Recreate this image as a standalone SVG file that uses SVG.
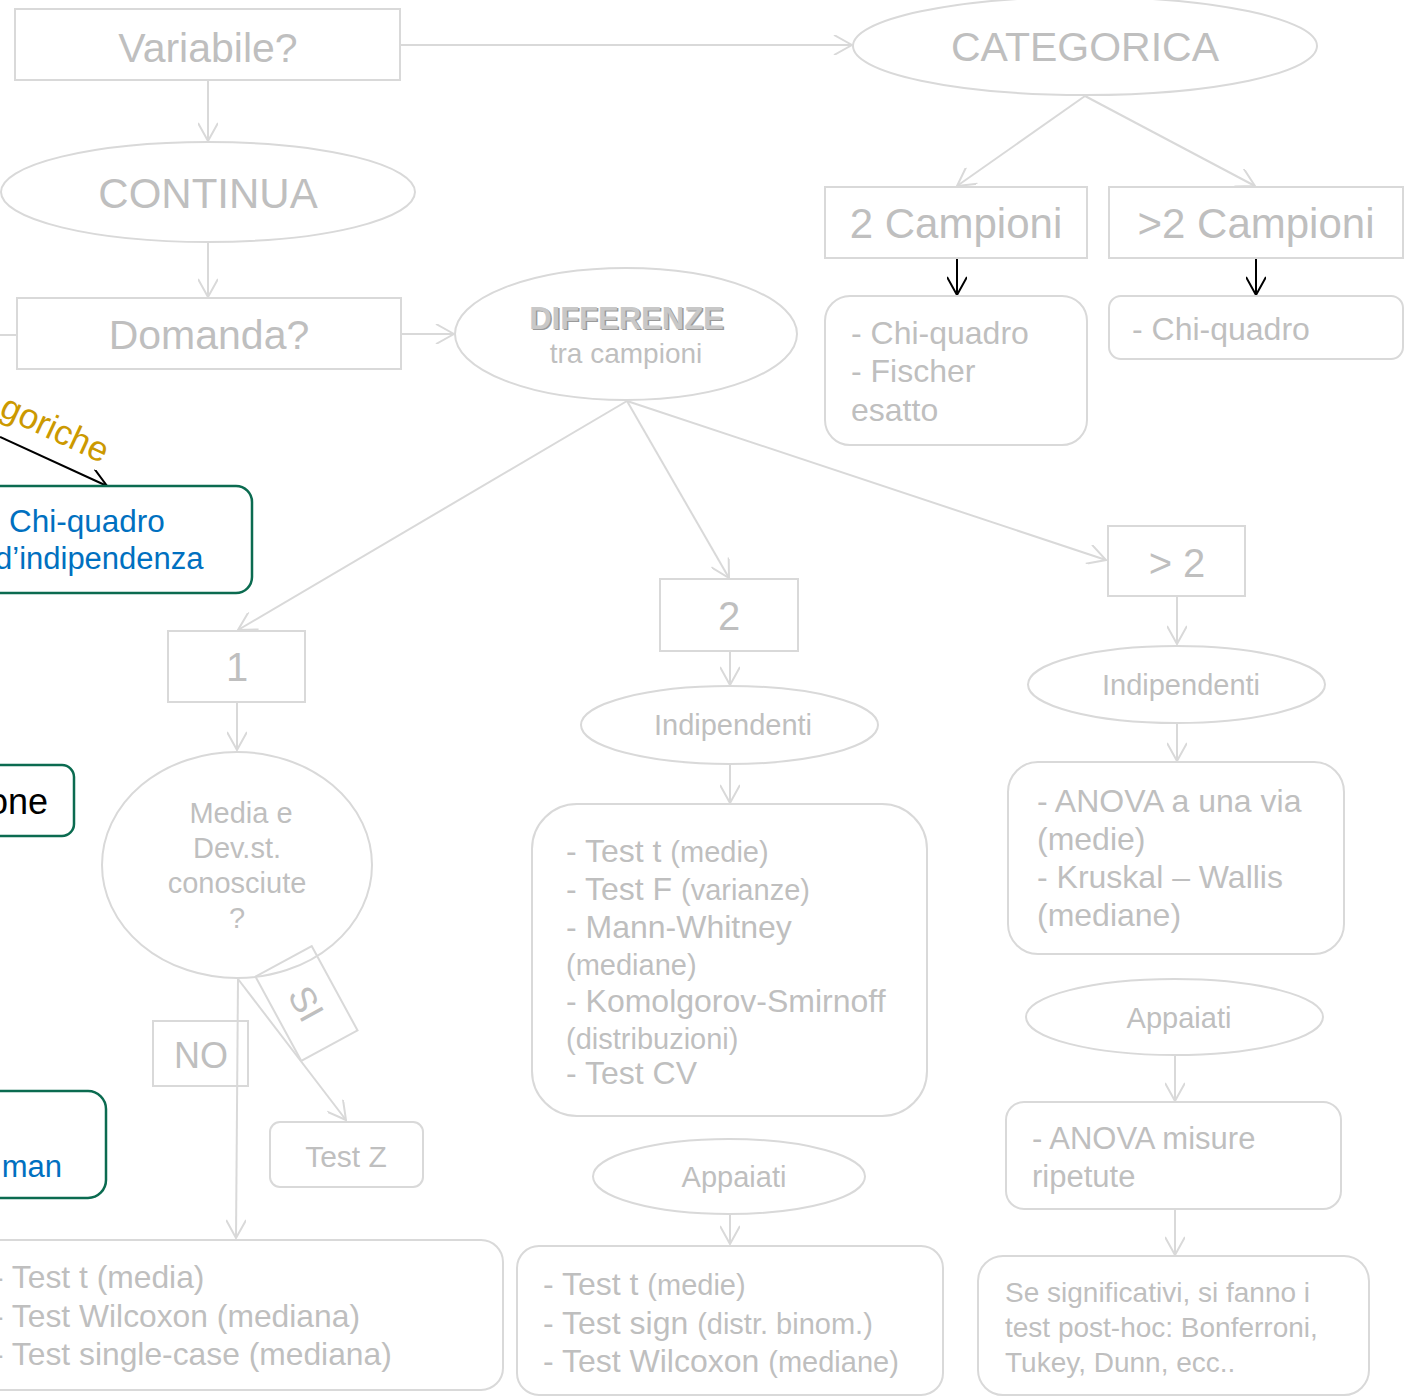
<svg xmlns="http://www.w3.org/2000/svg" width="1404" height="1397" viewBox="0 0 1404 1397">
<style>
text{font-family:"Liberation Sans",Arial,sans-serif;fill:#bfbfbf}
.shape{fill:#fff;stroke:#d9d9d9;stroke-width:2}
.lbl{fill:none;stroke:#d9d9d9;stroke-width:2}
.green{fill:#fff;stroke:#0b6b50;stroke-width:2.5}
.conn{stroke:#d9d9d9;stroke-width:2;fill:none;marker-end:url(#ag)}
.plain{stroke:#d9d9d9;stroke-width:2;fill:none}
.bconn{stroke:#000;stroke-width:2;fill:none;marker-end:url(#ab)}
.c{text-anchor:middle}
.blue{fill:#0070c0}
</style>
<defs>
<marker id="ag" viewBox="0 0 20 20" markerWidth="20" markerHeight="20" refX="19" refY="10" orient="auto" markerUnits="userSpaceOnUse"><path d="M1,0 L19,10 L1,20" fill="none" stroke="#d9d9d9" stroke-width="2"/></marker>
<marker id="ab" viewBox="0 0 20 20" markerWidth="20" markerHeight="20" refX="19" refY="10" orient="auto" markerUnits="userSpaceOnUse"><path d="M1,0 L19,10 L1,20" fill="none" stroke="#000" stroke-width="2"/></marker>
</defs>
<rect width="1404" height="1397" fill="#fff"/>

<g id="connectors">
<line class="conn" x1="400" y1="45" x2="852" y2="45"/>
<line class="conn" x1="208" y1="80" x2="208" y2="141"/>
<line class="conn" x1="208" y1="242" x2="208" y2="297"/>
<line class="plain" x1="0" y1="335" x2="17" y2="335"/>
<line class="conn" x1="401" y1="334" x2="454" y2="334"/>
<line class="conn" x1="1085" y1="96" x2="957" y2="186"/>
<line class="conn" x1="1085" y1="96" x2="1255" y2="186"/>
<line class="bconn" x1="957" y1="258" x2="957" y2="295"/>
<line class="bconn" x1="1256" y1="258" x2="1256" y2="295"/>
<line class="conn" x1="627" y1="401" x2="238" y2="630"/>
<line class="conn" x1="627" y1="401" x2="729" y2="578"/>
<line class="conn" x1="627" y1="401" x2="1106" y2="560"/>
<line class="conn" x1="237" y1="702" x2="237" y2="750"/>
<line class="conn" x1="238" y1="979" x2="236" y2="1238"/>
<line class="conn" x1="238" y1="979" x2="346" y2="1120"/>
<line class="conn" x1="730" y1="651" x2="730" y2="685"/>
<line class="conn" x1="730" y1="764" x2="730" y2="803"/>
<line class="conn" x1="730" y1="1214" x2="730" y2="1244"/>
<line class="conn" x1="1177" y1="596" x2="1177" y2="644"/>
<line class="conn" x1="1177" y1="723" x2="1177" y2="761"/>
<line class="conn" x1="1175" y1="1055" x2="1175" y2="1101"/>
<line class="conn" x1="1175" y1="1209" x2="1175" y2="1255"/>
<line class="bconn" x1="0" y1="437" x2="107" y2="486"/>
</g>

<g id="variabile"><rect class="shape" x="15" y="9" width="385" height="71"/><text class="c" x="208" y="62" font-size="41">Variabile?</text></g>
<g id="categorica"><ellipse class="shape" cx="1085" cy="46" rx="232" ry="49"/><text class="c" x="1085" y="61" font-size="41">CATEGORICA</text></g>
<g id="continua"><ellipse class="shape" cx="208" cy="192" rx="207" ry="50"/><text class="c" x="208" y="208" font-size="42">CONTINUA</text></g>
<g id="domanda"><rect class="shape" x="17" y="298" width="384" height="71"/><text class="c" x="209" y="349" font-size="41">Domanda?</text></g>
<g id="differenze"><ellipse class="shape" cx="626" cy="334" rx="171" ry="66"/>
<text class="c" x="628" y="330" font-size="31" font-weight="bold" style="fill:#9a9a9a">DIFFERENZE</text>
<text class="c" x="626.5" y="328.5" font-size="31" font-weight="bold" style="fill:#c8c8c8">DIFFERENZE</text>
<text class="c" x="626" y="363" font-size="28">tra campioni</text></g>

<g id="due-campioni"><rect class="shape" x="825" y="187" width="262" height="71"/><text class="c" x="956" y="238" font-size="42">2 Campioni</text></g>
<g id="piu-campioni"><rect class="shape" x="1109" y="187" width="294" height="71"/><text class="c" x="1256" y="238" font-size="42">&gt;2 Campioni</text></g>
<g id="chi-fischer"><rect class="shape" x="825" y="296" width="262" height="149" rx="25"/>
<text x="851" font-size="32"><tspan x="851" y="344">- Chi-quadro</tspan><tspan x="851" y="382">- Fischer</tspan><tspan x="851" y="421">esatto</tspan></text></g>
<g id="chi-solo"><rect class="shape" x="1109" y="296" width="294" height="63" rx="12"/><text x="1132" y="340" font-size="32">- Chi-quadro</text></g>

<g id="chi-indip"><rect class="green" x="-20" y="486" width="272" height="107" rx="16"/>
<text class="blue" x="9" y="532" font-size="31.5">Chi-quadro</text>
<text class="blue" x="-5" y="569" font-size="31">d’indipendenza</text></g>
<g id="categoriche-label"><text x="-2" y="415" font-size="35" transform="rotate(25 -2 415)" style="fill:#cc9900">goriche</text></g>
<g id="one-box"><rect class="green" x="-20" y="765" width="94" height="71" rx="12"/><text x="48" y="814" font-size="36" text-anchor="end" style="fill:#000">one</text></g>
<g id="man-box"><rect class="green" x="-20" y="1091" width="126" height="107" rx="18"/><text class="blue" x="62" y="1177" font-size="31" text-anchor="end">man</text></g>

<g id="uno"><rect class="shape" x="168" y="631" width="137" height="71"/><text class="c" x="237" y="681" font-size="40">1</text></g>
<g id="media-dev"><ellipse class="shape" cx="237" cy="865" rx="135" ry="113"/>
<text class="c" font-size="29"><tspan x="241" y="823">Media e</tspan><tspan x="237" y="858">Dev.st.</tspan><tspan x="237" y="893">conosciute</tspan><tspan x="237" y="928">?</tspan></text></g>
<g id="no-label"><rect class="lbl" x="153" y="1021" width="95" height="65"/><text class="c" x="201" y="1068" font-size="36">NO</text></g>
<g id="si-label" transform="translate(306.5 1003.5) rotate(61.5)"><rect class="lbl" x="-48" y="-32" width="96" height="64"/><text class="c" x="0" y="13" font-size="36">SI</text></g>
<g id="test-z"><rect class="shape" x="270" y="1122" width="153" height="65" rx="10"/><text class="c" x="346" y="1167" font-size="30">Test Z</text></g>
<g id="test-1"><rect class="shape" x="-30" y="1240" width="533" height="150" rx="22"/>
<text font-size="31.8"><tspan x="-7" y="1288">- Test t (media)</tspan><tspan x="-7" y="1327">- Test Wilcoxon (mediana)</tspan><tspan x="-7" y="1365">- Test single-case (mediana)</tspan></text></g>

<g id="due"><rect class="shape" x="660" y="579" width="138" height="72"/><text class="c" x="729" y="630" font-size="40">2</text></g>
<g id="indip-2"><ellipse class="shape" cx="729.5" cy="725" rx="148.5" ry="39"/><text class="c" x="733" y="735" font-size="29">Indipendenti</text></g>
<g id="test-2-indip"><rect class="shape" x="532" y="804" width="395" height="312" rx="45"/>
<text font-size="32">
<tspan x="566" y="862">- Test t <tspan font-size="29">(medie)</tspan></tspan>
<tspan x="566" y="900">- Test F <tspan font-size="29">(varianze)</tspan></tspan>
<tspan x="566" y="938">- Mann-Whitney</tspan>
<tspan x="566" y="975" font-size="29">(mediane)</tspan>
<tspan x="566" y="1012">- Komolgorov-Smirnoff</tspan>
<tspan x="566" y="1049" font-size="29">(distribuzioni)</tspan>
<tspan x="566" y="1084">- Test CV</tspan>
</text></g>
<g id="appa-2"><ellipse class="shape" cx="729" cy="1176.5" rx="136" ry="37.5"/><text class="c" x="734" y="1187" font-size="29">Appaiati</text></g>
<g id="test-2-appa"><rect class="shape" x="517" y="1246" width="426" height="149" rx="22"/>
<text font-size="32">
<tspan x="543" y="1295">- Test t <tspan font-size="29">(medie)</tspan></tspan>
<tspan x="543" y="1334">- Test sign <tspan font-size="29">(distr. binom.)</tspan></tspan>
<tspan x="543" y="1372">- Test Wilcoxon <tspan font-size="29">(mediane)</tspan></tspan>
</text></g>

<g id="piu-due"><rect class="shape" x="1108" y="526" width="137" height="70"/><text class="c" x="1177" y="577" font-size="40">&gt; 2</text></g>
<g id="indip-3"><ellipse class="shape" cx="1176.5" cy="684.5" rx="148.5" ry="38.5"/><text class="c" x="1181" y="695" font-size="29">Indipendenti</text></g>
<g id="anova"><rect class="shape" x="1008" y="762" width="336" height="192" rx="30"/>
<text font-size="32"><tspan x="1037" y="812">- ANOVA a una via</tspan><tspan x="1037" y="850">(medie)</tspan><tspan x="1037" y="888">- Kruskal – Wallis</tspan><tspan x="1037" y="926">(mediane)</tspan></text></g>
<g id="appa-3"><ellipse class="shape" cx="1174.5" cy="1017" rx="148.5" ry="38"/><text class="c" x="1179" y="1028" font-size="29">Appaiati</text></g>
<g id="anova-rm"><rect class="shape" x="1006" y="1102" width="335" height="107" rx="18"/>
<text font-size="31"><tspan x="1032" y="1149">- ANOVA misure</tspan><tspan x="1032" y="1187">ripetute</tspan></text></g>
<g id="post-hoc"><rect class="shape" x="978" y="1256" width="391" height="139" rx="25"/>
<text font-size="28"><tspan x="1005" y="1302">Se significativi, si fanno i</tspan><tspan x="1005" y="1337">test post-hoc: Bonferroni,</tspan><tspan x="1005" y="1372">Tukey, Dunn, ecc..</tspan></text></g>
</svg>
